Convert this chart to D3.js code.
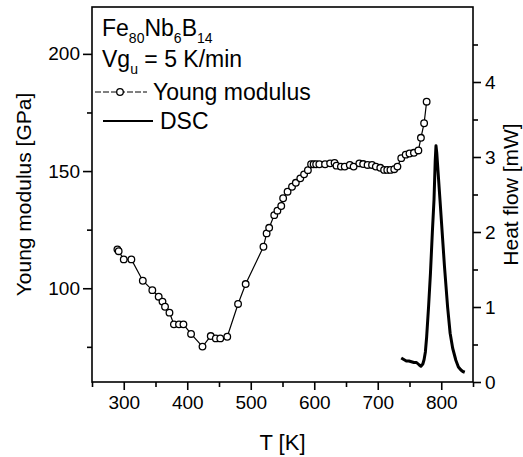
<!DOCTYPE html>
<html>
<head>
<meta charset="utf-8">
<script src="https://cdn.jsdelivr.net/npm/d3@7"></script>
<style>
  body { margin: 0; background: #fff; }
  text { font-family: Arial, "Liberation Sans", Helvetica, sans-serif; fill: #000; }
</style>
</head>
<body>
<svg id="chart" width="523" height="457"></svg>
<script>
// Young modulus
var youngT = [290, 292, 300, 312, 330, 345, 355, 361, 365, 372, 379, 387, 394, 406, 424, 437, 445, 452, 463,
  480, 492, 520, 525, 529, 537, 542, 548, 551, 558, 565, 571, 578, 584, 590,
  595, 599, 603, 608, 617, 625, 632, 635, 642, 648, 656, 662, 671, 677, 684, 691, 697, 704, 710, 715, 720, 726, 731,
  737, 744, 750, 757, 764, 768, 773, 777];
var youngE = [116.6, 115.8, 112.3, 112.3, 103.2, 99.2, 96.4, 94.3, 92.1, 89.6, 84.6, 84.6, 84.6, 80.5, 75.1, 79.6, 78.6, 78.6, 79.3,
  93.3, 101.8, 117.7, 123.4, 125.8, 131.2, 133.1, 135.1, 138.4, 141.2, 143.3, 145.0, 146.9, 148.6, 150.4,
  152.9, 152.9, 152.9, 152.9, 152.9, 153.3, 153.5, 152.3, 151.9, 151.9, 152.6, 151.9, 153.3, 153.0, 152.6, 152.6, 151.9, 151.4, 150.5, 150.5, 150.5, 150.8, 151.9,
  155.5, 157.0, 157.5, 157.8, 158.8, 164.2, 170.4, 179.6];

// DSC heat flow
var dscT = [737, 741, 745, 749, 753, 757, 761, 765, 768, 771, 773, 775, 777, 780, 783, 786, 788.6, 790.5, 791.7,
  793, 795, 798, 805, 810, 814, 818, 823, 827, 831, 834, 837];
var dscQ = [0.32, 0.30, 0.28, 0.28, 0.27, 0.26, 0.26, 0.23, 0.21, 0.24, 0.30, 0.40, 0.60, 1.0, 1.45, 2.0, 2.43, 2.95, 3.15,
  3.05, 2.8, 2.43, 1.55, 1.0, 0.65, 0.45, 0.29, 0.2, 0.16, 0.14, 0.13];

var xTicks = [300, 400, 500, 600, 700, 800];
var yLeftTicks = [100, 150, 200];
var yRightTicks = [0, 1, 2, 3, 4];

(function (d3) {
  'use strict';

  var mLeft = 92, mRight = 473, mTop = 7, mBottom = 382;

  var svg = d3.select('#chart');

  var x = d3.scaleLinear().domain([250, 850]).range([mLeft, mRight]);
  var yL = d3.scaleLinear().domain([60, 220]).range([mBottom, mTop]);
  var yR = d3.scaleLinear().domain([0, 5]).range([mBottom, mTop]);

  var young = youngT.map(function (t, i) { return {t: t, v: youngE[i]}; });
  var dsc = dscT.map(function (t, i) { return {t: t, v: dscQ[i]}; });

  // frame
  svg.append('rect')
    .attr('x', mLeft).attr('y', mTop)
    .attr('width', mRight - mLeft).attr('height', mBottom - mTop)
    .attr('fill', 'none').attr('stroke', '#000').attr('stroke-width', 1.6);

  function styleAxis(g) {
    g.select('.domain').remove();
    g.selectAll('line').attr('stroke', '#000').attr('stroke-width', 1.6);
    g.selectAll('text').style('font-size', '19px').attr('fill', '#000');
  }

  // minor ticks
  svg.append('g').attr('transform', 'translate(0,' + mBottom + ')')
    .call(d3.axisBottom(x).tickValues([250, 350, 450, 550, 650, 750, 850]).tickSize(5).tickFormat(''))
    .call(styleAxis);
  svg.append('g').attr('transform', 'translate(' + mLeft + ',0)')
    .call(d3.axisLeft(yL).tickValues([75, 125, 175]).tickSize(5).tickFormat(''))
    .call(styleAxis);
  svg.append('g').attr('transform', 'translate(' + mRight + ',0)')
    .call(d3.axisRight(yR).tickValues([0.5, 1.5, 2.5, 3.5, 4.5]).tickSize(5).tickFormat(''))
    .call(styleAxis);

  // major ticks
  svg.append('g').attr('transform', 'translate(0,' + mBottom + ')')
    .call(d3.axisBottom(x).tickValues(xTicks).tickSize(8).tickPadding(6))
    .call(styleAxis);
  svg.append('g').attr('transform', 'translate(' + mLeft + ',0)')
    .call(d3.axisLeft(yL).tickValues(yLeftTicks).tickSize(9).tickPadding(3))
    .call(styleAxis);
  svg.append('g').attr('transform', 'translate(' + mRight + ',0)')
    .call(d3.axisRight(yR).tickValues(yRightTicks).tickSize(8).tickPadding(4).tickFormat(d3.format('d')))
    .call(styleAxis);

  // axis titles
  svg.append('text')
    .attr('x', (mLeft + mRight) / 2).attr('y', 450)
    .attr('text-anchor', 'middle').style('font-size', '22px')
    .text('T [K]');
  svg.append('text')
    .attr('transform', 'translate(31,' + ((mTop + mBottom) / 2) + ') rotate(-90)')
    .attr('text-anchor', 'middle').style('font-size', '21px')
    .text('Young modulus [GPa]');
  svg.append('text')
    .attr('transform', 'translate(518,' + ((mTop + mBottom) / 2) + ') rotate(-90)')
    .attr('text-anchor', 'middle').style('font-size', '21px')
    .text('Heat flow [mW]');

  // DSC curve
  svg.append('path')
    .datum(dsc)
    .attr('fill', 'none').attr('stroke', '#000').attr('stroke-width', 3)
    .attr('stroke-linejoin', 'round')
    .attr('d', d3.line().x(function (d) { return x(d.t); }).y(function (d) { return yR(d.v); }));

  // Young modulus curve
  svg.append('path')
    .datum(young)
    .attr('fill', 'none').attr('stroke', '#000').attr('stroke-width', 1.2)
    .attr('d', d3.line().x(function (d) { return x(d.t); }).y(function (d) { return yL(d.v); }));

  svg.selectAll('.pt')
    .data(young)
    .enter()
    .append('circle')
    .attr('class', 'pt')
    .attr('r', 3.3)
    .attr('cx', function (d) { return x(d.t); })
    .attr('cy', function (d) { return yL(d.v); })
    .attr('fill', '#fff').attr('stroke', '#000').attr('stroke-width', 1.3);

  // composition and heating rate
  var t1 = svg.append('text').attr('x', 102).attr('y', 36).style('font-size', '23px');
  t1.append('tspan').text('Fe');
  t1.append('tspan').attr('dy', 7).style('font-size', '14px').text('80');
  t1.append('tspan').attr('dy', -7).text('Nb');
  t1.append('tspan').attr('dy', 7).style('font-size', '14px').text('6');
  t1.append('tspan').attr('dy', -7).text('B');
  t1.append('tspan').attr('dy', 7).style('font-size', '14px').text('14');

  var t2 = svg.append('text').attr('x', 102).attr('y', 67).style('font-size', '23px');
  t2.append('tspan').text('Vg');
  t2.append('tspan').attr('dy', 7).style('font-size', '14px').text('u');
  t2.append('tspan').attr('dy', -7).text(' = 5 K/min');

  // legend
  svg.append('line')
    .attr('x1', 95).attr('x2', 147).attr('y1', 92).attr('y2', 92)
    .attr('stroke', '#000').attr('stroke-width', 1).attr('stroke-dasharray', '6,2');
  svg.append('circle').attr('cx', 120).attr('cy', 92).attr('r', 3.3)
    .attr('fill', '#fff').attr('stroke', '#000').attr('stroke-width', 1.3);
  svg.append('text').attr('x', 153).attr('y', 100).style('font-size', '23px').text('Young modulus');

  svg.append('line')
    .attr('x1', 103).attr('x2', 153).attr('y1', 121).attr('y2', 121)
    .attr('stroke', '#000').attr('stroke-width', 2.2);
  svg.append('text').attr('x', 160).attr('y', 129).style('font-size', '23px').text('DSC');
})(d3);
</script>
</body>
</html>
